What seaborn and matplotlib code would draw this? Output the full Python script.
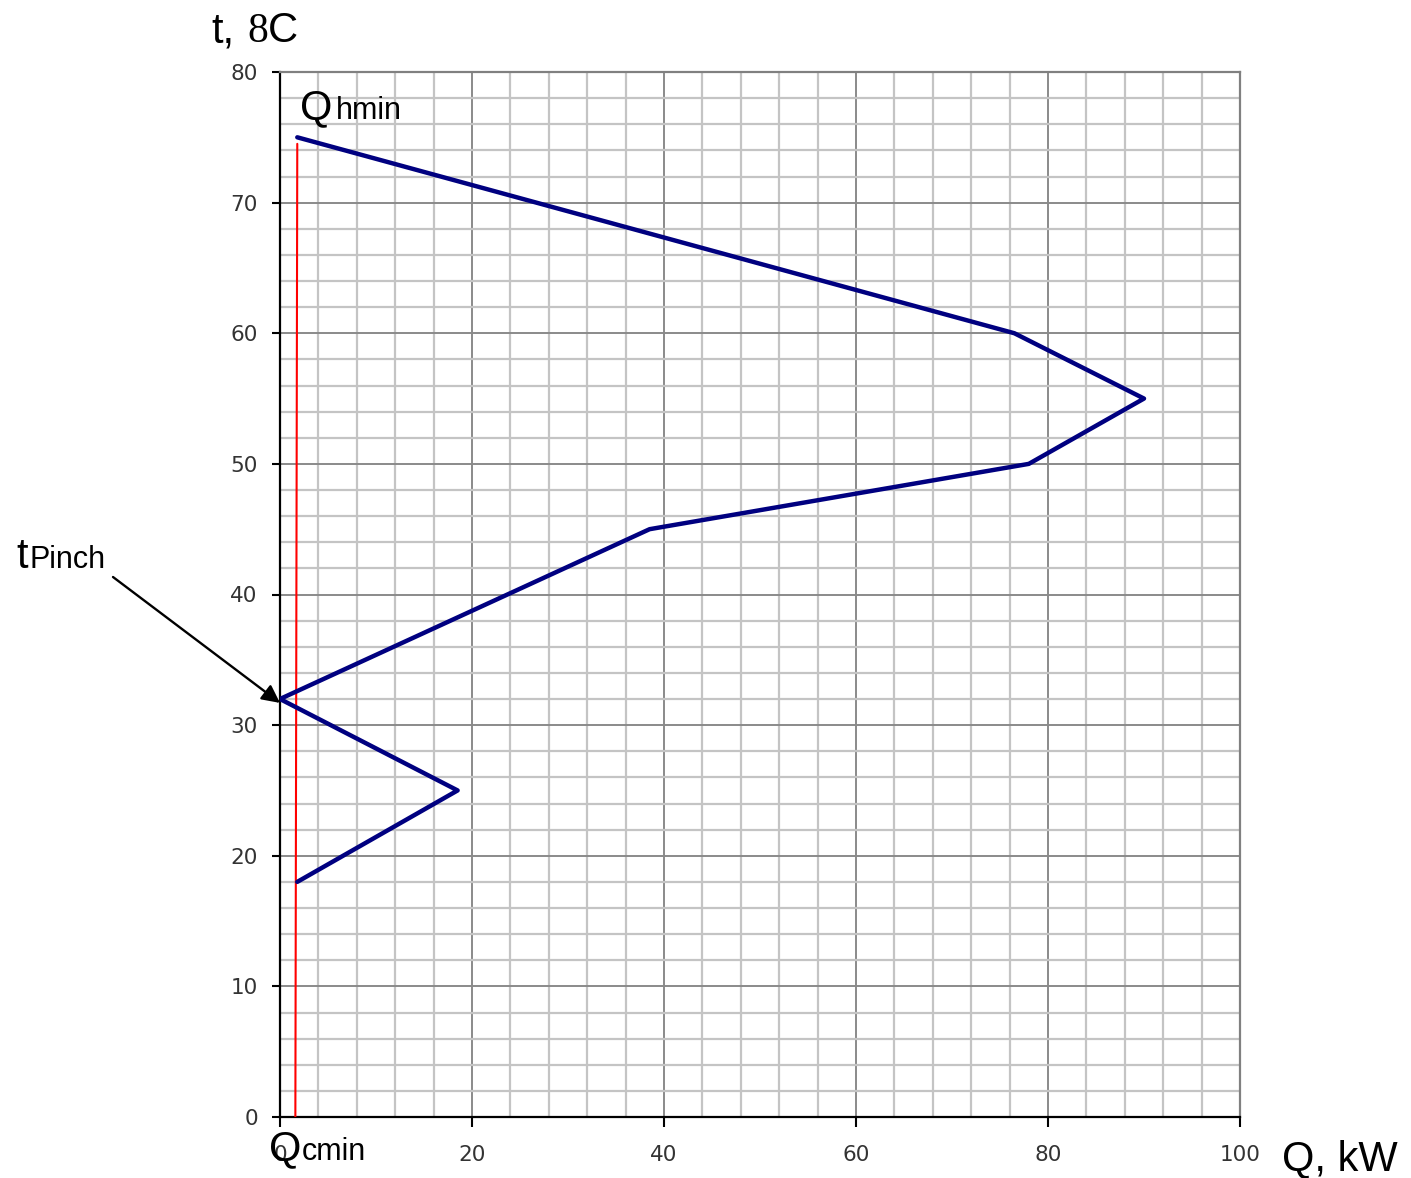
import matplotlib
matplotlib.use("Agg")
import matplotlib.pyplot as plt
import seaborn as sns
import pandas as pd
import numpy as np

# Grand composite curve: net heat flow Q (kW) versus shifted temperature t (°C)
heat_flow = [1.8, 76.5, 90.0, 78.0, 38.5, 0.0, 18.5, 1.8]
temperature = [75, 60, 55, 50, 45, 32, 25, 18]

# Minimum hot / cold utility marker line
utility_q = [1.8, 1.6]
utility_t = [74.5, 0.0]

# Pinch point
pinch_q, pinch_t = 0.0, 32.0

x_ticks = [0, 20, 40, 60, 80, 100]
y_ticks = [0, 10, 20, 30, 40, 50, 60, 70, 80]

sns.set_style("white")
plt.rcParams["font.family"] = ["Liberation Sans", "DejaVu Sans"]

W, H = 1411, 1178
fig = plt.figure(figsize=(W / 100, H / 100), dpi=100)
ax = fig.add_axes([280 / W, 1 - 1117 / H, (1240 - 280) / W, (1117 - 72) / H])

df = pd.DataFrame({"Q": heat_flow, "t": temperature})
sns.lineplot(data=df, x="Q", y="t", sort=False, estimator=None,
             color="#000080", linewidth=3.2, ax=ax, zorder=4)
ax.plot(utility_q, utility_t, color="red", linewidth=1.5, zorder=3)

ax.set_xlim(0, 100)
ax.set_ylim(0, 80)
ax.set_xticks(x_ticks)
ax.set_yticks(y_ticks)
ax.set_xticks(np.arange(0, 101, 4), minor=True)
ax.set_yticks(np.arange(0, 81, 2), minor=True)
ax.set_xlabel("")
ax.set_ylabel("")

ax.set_axisbelow(True)
ax.grid(which="minor", color="#c4c4c4", linewidth=1.6)
ax.grid(which="major", axis="y", color="#8a8a8a", linewidth=1.4)
ax.xaxis.grid(False, which="major")
for xv in x_ticks[1:-1]:
    ax.axvline(xv, color="#8a8a8a", linewidth=1.4, zorder=0.5)

for side in ("left", "bottom"):
    ax.spines[side].set_color("black")
    ax.spines[side].set_linewidth(1.6)
for side in ("top", "right"):
    ax.spines[side].set_color("#808080")
    ax.spines[side].set_linewidth(1.6)

ax.tick_params(axis="y", which="major", direction="out", length=6, width=1.5,
               color="black", pad=10, labelsize=15.5, labelcolor="#333333", left=True)
ax.tick_params(axis="x", which="major", direction="out", length=7, width=1.5,
               color="black", pad=13, labelsize=15.5, labelcolor="#333333", bottom=True)
ax.tick_params(which="minor", length=0)
for lab in ax.get_xticklabels() + ax.get_yticklabels():
    lab.set_family("DejaVu Sans")


def ftext(px, py, s, size, family="Liberation Sans"):
    fig.text(px / W, 1 - py / H, s, fontsize=size, family=family,
             ha="left", va="baseline", color="black")


BIG, SMALL = 30, 22

# Axis titles
ftext(211, 42, "t,", BIG)
ftext(247, 42, "8", BIG, family="Liberation Serif")
ftext(268, 42, "C", BIG)
ftext(1282, 1170, "Q, kW", BIG)

# Utility and pinch labels
ftext(300, 119, "Q", BIG)
ftext(336, 119, "hmin", SMALL)
ftext(269, 1160, "Q", BIG)
ftext(302, 1160, "cmin", SMALL)
ftext(16, 568, "t", BIG)
ftext(30, 568, "Pinch", SMALL)

ax.annotate("", xy=(pinch_q, pinch_t - 0.3), xycoords="data",
            xytext=(113 / W, 1 - 577 / H), textcoords="figure fraction",
            arrowprops=dict(arrowstyle="-|>", color="black", lw=1.7,
                            mutation_scale=27, shrinkA=0, shrinkB=0),
            annotation_clip=False)

fig.savefig("out.png", dpi=100)
